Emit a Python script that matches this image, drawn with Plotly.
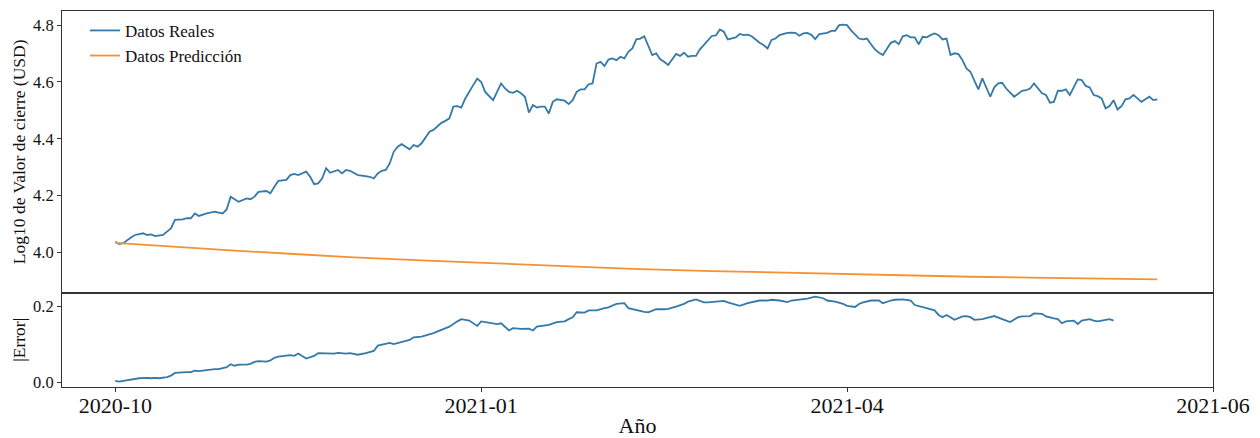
import plotly.graph_objects as go
from plotly.subplots import make_subplots

# Serie real (log10 del precio de cierre), indexada por día desde 2020-10
dias_reales = [0, 1, 2, 3, 4, 5, 7, 8, 9, 10, 12, 13, 14, 15, 17, 18, 19, 20, 21, 23, 25, 26, 27, 28, 29, 30,
               31, 33, 34, 35, 36, 38, 39, 40, 41, 43, 44, 45, 46, 48, 49, 50, 51, 52, 53, 54, 56, 57, 58, 59,
               61, 62, 64, 65, 66, 67, 68, 69, 70, 71, 72, 73, 74, 75, 76, 77, 78, 79, 80, 81, 82, 83, 84, 85,
               86, 87, 88, 90, 91, 92, 93, 95, 96, 97, 98, 99, 100, 101, 102, 103, 104, 105, 106, 107, 108,
               109, 110, 111, 113, 114, 115, 116, 117, 118, 119, 120, 121, 122, 123, 124, 125, 126, 127, 128,
               129, 130, 131, 132, 133, 134, 135, 136, 137, 138, 139, 141, 142, 143, 144, 145, 146, 147, 148,
               149, 150, 151, 152, 153, 154, 156, 157, 158, 159, 160, 162, 163, 164, 165, 166, 167, 169, 170,
               171, 172, 173, 174, 175, 176, 177, 179, 180, 181, 182, 183, 184, 185, 187, 188, 189, 190, 191,
               192, 193, 195, 196, 197, 198, 199, 200, 201, 202, 203, 204, 205, 206, 207, 208, 209, 210, 211,
               212, 213, 214, 215, 216, 217, 218, 219, 220, 221, 222, 223, 224, 226, 227, 228, 229, 230, 231,
               232, 233, 234, 235, 236, 237, 238, 239, 240, 241, 242, 243, 244, 245, 246, 247, 248, 249, 250,
               251, 252, 253, 254, 255, 256, 257, 258, 259, 260, 261, 262]
valores_reales = [4.037, 4.029, 4.032, 4.043, 4.053, 4.061, 4.067, 4.061, 4.063, 4.057, 4.061, 4.073, 4.084,
                  4.114, 4.116, 4.120, 4.120, 4.137, 4.128, 4.137, 4.143, 4.140, 4.137, 4.151, 4.196, 4.187,
                  4.178, 4.190, 4.187, 4.196, 4.213, 4.216, 4.208, 4.231, 4.252, 4.255, 4.272, 4.276, 4.272,
                  4.284, 4.266, 4.240, 4.243, 4.260, 4.296, 4.280, 4.290, 4.278, 4.290, 4.287, 4.272, 4.270,
                  4.266, 4.260, 4.278, 4.287, 4.290, 4.313, 4.354, 4.372, 4.381, 4.372, 4.363, 4.378, 4.372,
                  4.384, 4.407, 4.425, 4.431, 4.442, 4.456, 4.463, 4.472, 4.513, 4.515, 4.510, 4.542, 4.589,
                  4.612, 4.600, 4.565, 4.536, 4.565, 4.595, 4.577, 4.565, 4.562, 4.569, 4.560, 4.548, 4.492,
                  4.519, 4.510, 4.513, 4.513, 4.489, 4.530, 4.539, 4.534, 4.522, 4.536, 4.565, 4.574, 4.574,
                  4.592, 4.595, 4.665, 4.671, 4.656, 4.679, 4.683, 4.677, 4.689, 4.683, 4.706, 4.718, 4.750,
                  4.753, 4.761, 4.730, 4.695, 4.701, 4.680, 4.671, 4.660, 4.699, 4.692, 4.703, 4.689, 4.692,
                  4.692, 4.715, 4.730, 4.748, 4.762, 4.764, 4.785, 4.777, 4.750, 4.757, 4.769, 4.765, 4.767,
                  4.761, 4.738, 4.730, 4.718, 4.748, 4.753, 4.765, 4.773, 4.774, 4.773, 4.763, 4.771, 4.773,
                  4.766, 4.751, 4.769, 4.773, 4.780, 4.780, 4.800, 4.802, 4.800, 4.782, 4.753, 4.750, 4.753,
                  4.733, 4.715, 4.703, 4.695, 4.738, 4.744, 4.733, 4.761, 4.765, 4.757, 4.757, 4.733, 4.759,
                  4.757, 4.765, 4.771, 4.765, 4.750, 4.753, 4.695, 4.701, 4.698, 4.677, 4.648, 4.636, 4.607,
                  4.574, 4.613, 4.581, 4.548, 4.581, 4.595, 4.597, 4.577, 4.548, 4.557, 4.569, 4.571, 4.577,
                  4.595, 4.577, 4.560, 4.554, 4.527, 4.530, 4.569, 4.569, 4.574, 4.554, 4.583, 4.609, 4.607,
                  4.586, 4.581, 4.554, 4.550, 4.542, 4.507, 4.515, 4.536, 4.503, 4.515, 4.539, 4.542, 4.554,
                  4.542, 4.530, 4.539, 4.548, 4.536, 4.539]

# Serie de predicción del modelo
dias_pred = [0, 15, 30, 45, 60, 80, 95, 115, 130, 150, 165, 185, 200, 215, 230, 245, 262]
valores_pred = [4.033, 4.019, 4.006, 3.994, 3.982, 3.970, 3.961, 3.950, 3.942, 3.934, 3.929, 3.922, 3.918,
                3.914, 3.911, 3.908, 3.905]

# Error absoluto
dias_error = [0, 1, 2, 4, 5, 6, 8, 9, 10, 11, 13, 14, 15, 16, 18, 19, 20, 21, 23, 24, 25, 26, 28, 29, 30, 31,
              33, 34, 35, 36, 38, 39, 40, 41, 43, 44, 45, 46, 48, 49, 50, 51, 53, 54, 55, 56, 58, 59, 60, 61,
              63, 64, 65, 66, 68, 69, 70, 71, 73, 74, 75, 77, 80, 82, 84, 86, 87, 89, 91, 92, 94, 96, 97, 99,
              100, 102, 104, 105, 106, 108, 109, 111, 113, 114, 115, 116, 118, 119, 121, 123, 124, 126, 128,
              129, 131, 133, 134, 136, 138, 139, 141, 143, 144, 146, 148, 149, 151, 153, 154, 156, 157, 159,
              160, 162, 164, 165, 167, 169, 170, 172, 174, 176, 178, 179, 181, 183, 184, 186, 187, 188, 190,
              192, 193, 195, 196, 198, 200, 201, 202, 204, 206, 207, 208, 209, 210, 211, 213, 214, 215, 216,
              218, 220, 221, 223, 225, 227, 228, 230, 231, 233, 234, 236, 237, 238, 239, 241, 242, 243, 245,
              246, 247, 249, 250, 251]
valores_error = [0.004, 0.002, 0.004, 0.007, 0.010, 0.011, 0.012, 0.011, 0.012, 0.011, 0.014, 0.018, 0.025,
                 0.026, 0.027, 0.027, 0.031, 0.030, 0.033, 0.033, 0.035, 0.035, 0.040, 0.048, 0.044, 0.047,
                 0.047, 0.049, 0.054, 0.056, 0.055, 0.058, 0.065, 0.068, 0.070, 0.072, 0.070, 0.076, 0.063,
                 0.067, 0.070, 0.077, 0.076, 0.077, 0.076, 0.078, 0.076, 0.077, 0.074, 0.073, 0.077, 0.079,
                 0.083, 0.097, 0.102, 0.104, 0.101, 0.104, 0.108, 0.112, 0.119, 0.121, 0.130, 0.139, 0.147,
                 0.161, 0.167, 0.163, 0.149, 0.161, 0.158, 0.154, 0.156, 0.137, 0.143, 0.141, 0.142, 0.137,
                 0.147, 0.150, 0.152, 0.159, 0.161, 0.167, 0.172, 0.185, 0.184, 0.190, 0.190, 0.196, 0.198,
                 0.207, 0.209, 0.196, 0.190, 0.186, 0.185, 0.193, 0.193, 0.194, 0.200, 0.207, 0.213, 0.219,
                 0.211, 0.211, 0.213, 0.215, 0.211, 0.204, 0.202, 0.209, 0.212, 0.216, 0.216, 0.218, 0.216,
                 0.212, 0.216, 0.218, 0.221, 0.226, 0.222, 0.216, 0.213, 0.207, 0.202, 0.199, 0.207, 0.211,
                 0.216, 0.216, 0.209, 0.216, 0.218, 0.219, 0.216, 0.204, 0.202, 0.196, 0.190, 0.178, 0.172,
                 0.178, 0.172, 0.165, 0.174, 0.175, 0.172, 0.165, 0.167, 0.172, 0.175, 0.167, 0.159, 0.172,
                 0.174, 0.175, 0.182, 0.181, 0.174, 0.169, 0.167, 0.156, 0.161, 0.163, 0.154, 0.163, 0.167,
                 0.163, 0.161, 0.165, 0.167, 0.163]

posiciones_ticks = [0, 92, 184, 276]
etiquetas_ticks = ["2020-10", "2021-01", "2021-04", "2021-06"]

AZUL = "#3579a8"
NARANJA = "#f5922f"
MARCO = "#333333"
FUENTE = "Liberation Serif"

fig = make_subplots(rows=2, cols=1, shared_xaxes=True, vertical_spacing=0,
                    row_heights=[0.749, 0.251])

fig.add_trace(go.Scatter(x=dias_reales, y=valores_reales, mode="lines", name="Datos Reales",
                         line=dict(color=AZUL, width=1.8)), row=1, col=1)
fig.add_trace(go.Scatter(x=dias_pred, y=valores_pred, mode="lines", name="Datos Predicción",
                         line=dict(color=NARANJA, width=1.8)), row=1, col=1)
fig.add_trace(go.Scatter(x=dias_error, y=valores_error, mode="lines", name="|Error|", showlegend=False,
                         line=dict(color=AZUL, width=1.8)), row=2, col=1)

eje_x = dict(range=[-13.4, 276.0], showline=True, linecolor=MARCO, linewidth=1, mirror=True,
             showgrid=False, zeroline=False, automargin=False)
fig.update_xaxes(**eje_x, showticklabels=False, ticks="", row=1, col=1)
fig.update_xaxes(**eje_x, tickmode="array", tickvals=posiciones_ticks, ticktext=etiquetas_ticks,
                 ticks="outside", ticklen=4, tickcolor=MARCO, ticklabelstandoff=-5,
                 tickfont=dict(family=FUENTE, size=22, color="#111"),
                 title=dict(text="Año", font=dict(family=FUENTE, size=22, color="#111"), standoff=6),
                 row=2, col=1)

eje_y = dict(showline=True, linecolor=MARCO, linewidth=1, mirror=True, showgrid=False, zeroline=False,
             ticks="outside", ticklen=4, tickcolor=MARCO, tickformat=".1f", automargin=False,
             tickfont=dict(family=FUENTE, size=16.5, color="#111"))
fig.update_yaxes(**eje_y, range=[3.858, 4.850], tick0=4.0, dtick=0.2,
                 title=dict(text="Log10 de Valor de cierre (USD)",
                            font=dict(family=FUENTE, size=17.5, color="#111"), standoff=2),
                 row=1, col=1)
fig.update_yaxes(**eje_y, range=[-0.0121, 0.2368], tickvals=[0.0, 0.2],
                 title=dict(text="|Error|", font=dict(family=FUENTE, size=17.5, color="#111"), standoff=2),
                 row=2, col=1)

fig.update_layout(
    width=1260, height=438,
    margin=dict(l=62, r=47, t=11, b=51),
    plot_bgcolor="white", paper_bgcolor="white",
    font=dict(family=FUENTE, color="#111"),
    legend=dict(x=0.02, y=0.995, xanchor="left", yanchor="top", bgcolor="rgba(0,0,0,0)",
                font=dict(family=FUENTE, size=17, color="#111")),
)

fig.write_html("out.html")
